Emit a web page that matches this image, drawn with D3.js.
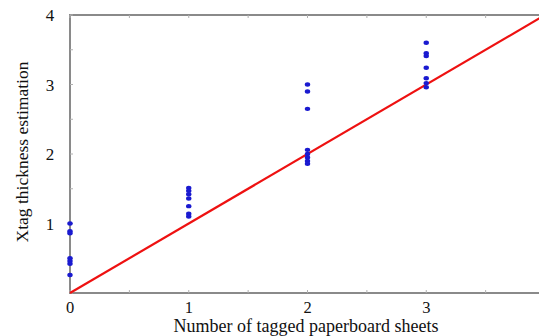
<!DOCTYPE html>
<html>
<head>
<meta charset="utf-8">
<script src="https://cdn.jsdelivr.net/npm/d3@7"></script>
<style>
  html, body { margin: 0; padding: 0; background: #fff; }
  svg { display: block; }
  text { font-family: "Liberation Serif", "Times New Roman", serif; fill: #111; }
</style>
</head>
<body>
<svg id="chart" width="539" height="336"></svg>
<script>
// Measured estimates per number of tagged sheets
const sheetCounts = [0, 1, 2, 3];
const estimates0 = [1.0, 0.89, 0.86, 0.5, 0.46, 0.42, 0.26];
const estimates1 = [1.51, 1.47, 1.42, 1.36, 1.25, 1.14, 1.1];
const estimates2 = [3.0, 2.9, 2.65, 2.06, 2.0, 1.95, 1.9, 1.86];
const estimates3 = [3.6, 3.45, 3.41, 3.24, 3.09, 3.02, 2.96];
const estimateSets = [estimates0, estimates1, estimates2, estimates3];
const majorTicks = [0, 1, 2, 3, 4];
const idealLine = [[0, 0], [4, 4]];

const svg = d3.select("#chart");
const plotLeft = 70, plotRight = 545, plotTop = 15, plotBottom = 293;

const x = d3.scaleLinear().domain([0, 4]).range([plotLeft, plotRight]);
const y = d3.scaleLinear().domain([0, 4]).range([plotBottom, plotTop]);

const axisColor = "#8a8a8a";
const minor = d3.range(0, 4.01, 0.5);

// Frame
svg.append("rect")
  .attr("x", plotLeft).attr("y", plotTop)
  .attr("width", plotRight - plotLeft).attr("height", plotBottom - plotTop)
  .attr("fill", "none").attr("stroke", axisColor).attr("stroke-width", 2);

// Small inward ticks on the frame
const tickLen = 3;
svg.append("g").selectAll("line").data(minor).join("line")
  .attr("x1", d => x(d)).attr("x2", d => x(d))
  .attr("y1", plotBottom).attr("y2", plotBottom - tickLen)
  .attr("stroke", "#b0b0b0");
svg.append("g").selectAll("line").data(minor).join("line")
  .attr("x1", d => x(d)).attr("x2", d => x(d))
  .attr("y1", plotTop).attr("y2", plotTop + tickLen)
  .attr("stroke", "#b0b0b0");
svg.append("g").selectAll("line").data(minor).join("line")
  .attr("x1", plotLeft).attr("x2", plotLeft + tickLen)
  .attr("y1", d => y(d)).attr("y2", d => y(d))
  .attr("stroke", "#b0b0b0");

// Tick labels
svg.append("g").selectAll("text").data(majorTicks.slice(0, 4)).join("text")
  .attr("x", d => x(d)).attr("y", 313)
  .attr("text-anchor", "middle").attr("font-size", 16.5)
  .text(d => d);
svg.append("g").selectAll("text").data(majorTicks.slice(1)).join("text")
  .attr("x", 50).attr("y", d => y(d) + 6)
  .attr("text-anchor", "middle").attr("font-size", 17)
  .text(d => d);

// Axis titles
svg.append("text")
  .attr("x", 306).attr("y", 332)
  .attr("text-anchor", "middle").attr("font-size", 18)
  .text("Number of tagged paperboard sheets");
svg.append("text")
  .attr("transform", "translate(28,152) rotate(-90)")
  .attr("text-anchor", "middle").attr("font-size", 17.5)
  .text("Xtag thickness estimation");

// Ideal y = x line
svg.append("path")
  .datum(idealLine)
  .attr("d", d3.line().x(d => x(d[0])).y(d => y(d[1])))
  .attr("stroke", "#ee1111").attr("stroke-width", 2.2).attr("fill", "none");

// Measured points
const pts = estimateSets.flatMap((vals, i) => vals.map(v => ({ n: sheetCounts[i], v })));
svg.append("g").selectAll("ellipse").data(pts).join("ellipse")
  .attr("cx", d => x(d.n)).attr("cy", d => y(d.v))
  .attr("rx", 2.7).attr("ry", 2.2)
  .attr("fill", "#1a1ad0");
</script>
</body>
</html>
